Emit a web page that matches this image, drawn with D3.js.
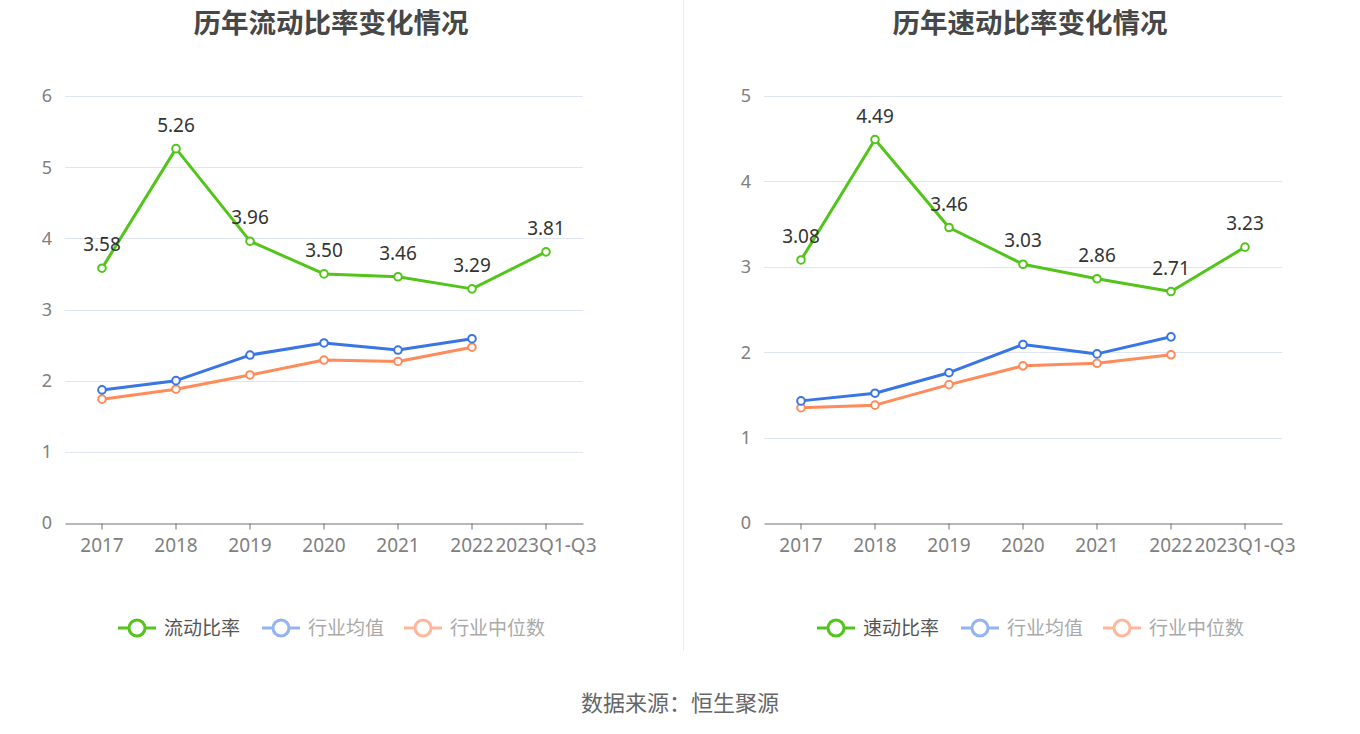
<!DOCTYPE html>
<html><head><meta charset="utf-8">
<script src="https://cdn.jsdelivr.net/npm/d3@7"></script>
<style>
html,body{margin:0;padding:0;background:#fff;}
svg{display:block;font-family:"Noto Sans","Noto Sans CJK SC",sans-serif;}
</style></head>
<body>
<svg id="c" width="1360" height="734"></svg>
<script>
const categories = ["2017","2018","2019","2020","2021","2022","2023Q1-Q3"];
const currentRatio = [3.58,5.26,3.96,3.50,3.46,3.29,3.81];
const currentAvg = [1.87,2.00,2.36,2.53,2.43,2.59];
const currentMed = [1.74,1.88,2.08,2.29,2.27,2.47];
const quickRatio = [3.08,4.49,3.46,3.03,2.86,2.71,3.23];
const quickAvg = [1.43,1.52,1.76,2.09,1.98,2.18];
const quickMed = [1.35,1.38,1.62,1.84,1.87,1.97];
const leftTicks = [0,1,2,3,4,5,6];
const rightTicks = [0,1,2,3,4,5];
const titles = ["历年流动比率变化情况","历年速动比率变化情况"];
const legendNames = [["流动比率","行业均值","行业中位数"],["速动比率","行业均值","行业中位数"]];
const source = "数据来源：恒生聚源";

const colors = {green:"#52c41a", blue:"#3a75e6", orange:"#ff8a5a"};
const legendColors = ["#52c41a","#93b3f2","#ffb79b"];
const legendText = ["#555","#aaa","#aaa"];

const svg = d3.select("#c");

svg.append("line").attr("x1",683.5).attr("x2",683.5).attr("y1",0).attr("y2",651)
  .attr("stroke","#ececec").attr("stroke-width",1);

function panel(ox, title, main, avg, med, ticks, yMax, names, legendX){
  const x0 = ox+65, x1 = ox+583, yTop = 96, yBot = 523;
  const x = d3.scaleBand().domain(categories).range([x0,x1]);
  const y = d3.scaleLinear().domain([0,yMax]).range([yBot,yTop]);
  const g = svg.append("g");
  g.append("text").attr("x",ox+331).attr("y",32.5).attr("text-anchor","middle")
    .attr("font-size",27.5).attr("font-weight","bold").attr("fill","#474747")
    .attr("font-family","\"Noto Sans CJK SC\",sans-serif").text(title);
  g.selectAll(".grid").data(ticks.filter(t=>t>0)).enter().append("line")
    .attr("x1",x0).attr("x2",x1).attr("y1",d=>Math.round(y(d))+0.5).attr("y2",d=>Math.round(y(d))+0.5)
    .attr("stroke","#e0e6f1").attr("stroke-width",1);
  g.selectAll(".yl").data(ticks).enter().append("text")
    .attr("x",x0-13).attr("y",d=>y(d)).attr("dy","0.36em").attr("text-anchor","end")
    .attr("font-size",18).attr("fill","#808080").text(d=>d);
  const xa = g.append("g").attr("transform",`translate(0,${yBot+0.5})`)
    .call(d3.axisBottom(x).tickSize(6).tickSizeOuter(0));
  xa.select(".domain").attr("stroke","#6e7079");
  xa.selectAll(".tick line").attr("stroke","#6e7079");
  xa.selectAll(".tick text").attr("font-size",19).attr("fill","#808080").attr("dy","1.05em")
    .attr("font-family","\"Noto Sans\",sans-serif");
  const cx = d=>x(d)+x.bandwidth()/2;
  function series(vals,color,lw){
    const line = d3.line().x((d,i)=>cx(categories[i])).y(d=>y(d));
    g.append("path").datum(vals).attr("d",line).attr("fill","none")
      .attr("stroke",color).attr("stroke-width",lw).attr("stroke-linejoin","round");
    g.selectAll(null).data(vals).enter().append("circle")
      .attr("cx",(d,i)=>cx(categories[i])).attr("cy",d=>y(d)).attr("r",3.8)
      .attr("fill","#fff").attr("stroke",color).attr("stroke-width",2);
  }
  series(med,colors.orange,3);
  series(avg,colors.blue,3);
  series(main,colors.green,3);
  g.selectAll(null).data(main).enter().append("text")
    .attr("x",(d,i)=>cx(categories[i])).attr("y",d=>y(d)-17)
    .attr("text-anchor","middle").attr("font-size",19).attr("fill","#333")
    .text(d=>d.toFixed(2));
  const offs = [0,144,286];
  names.forEach((n,i)=>{
    const lx = legendX+offs[i];
    const lg = g.append("g").attr("transform",`translate(${lx},628)`);
    lg.append("line").attr("x1",0).attr("x2",38).attr("y1",0).attr("y2",0)
      .attr("stroke",legendColors[i]).attr("stroke-width",3);
    lg.append("circle").attr("cx",19).attr("cy",0).attr("r",8)
      .attr("fill","#fff").attr("stroke",legendColors[i]).attr("stroke-width",3);
    lg.append("text").attr("x",46).attr("y",0).attr("dy","0.35em").attr("font-size",19)
      .attr("fill",legendText[i]).attr("font-family","\"Noto Sans CJK SC\",sans-serif").text(n);
  });
}
panel(0,titles[0],currentRatio,currentAvg,currentMed,leftTicks,6,legendNames[0],118);
panel(699,titles[1],quickRatio,quickAvg,quickMed,rightTicks,5,legendNames[1],817);

svg.append("text").attr("x",680).attr("y",711).attr("text-anchor","middle")
  .attr("font-size",22).attr("fill","#666").attr("font-family","\"Noto Sans CJK SC\",sans-serif").text(source);
</script>
</body></html>
